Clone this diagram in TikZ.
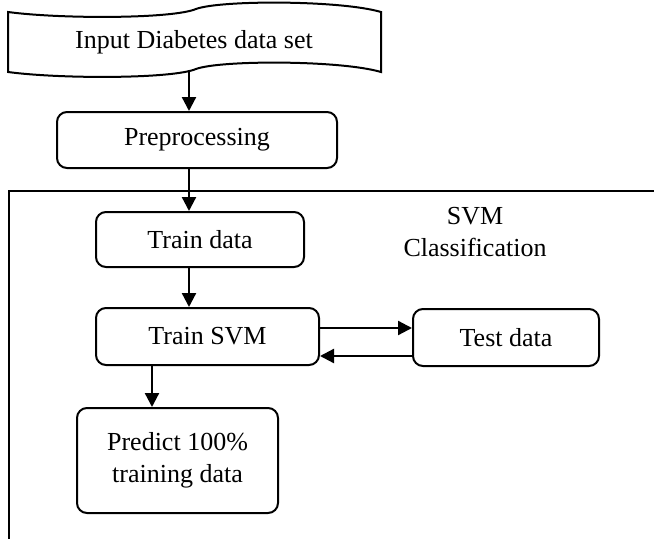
\documentclass[tikz,border=0pt]{standalone}
\usepackage{fontspec}
\setmainfont{Liberation Serif}
\usetikzlibrary{arrows.meta}
\begin{document}
\begin{tikzpicture}[x=0.75pt,y=-0.75pt,
  line width=1.5pt,
  every node/.style={font=\fontsize{19.5}{24}\selectfont, inner sep=0pt, align=center},
  box/.style={draw, rounded corners=7.5pt, line width=1.5pt},
  arr/.style={-{Triangle[length=10.5pt,width=10.5pt]}, line width=1.7pt}]
\useasboundingbox (0,0) rectangle (654,539);
% input document shape
\draw[line width=1.5pt] (8,12) .. controls (60,19) and (172,19) .. (196,9)
  .. controls (220,0) and (340,0) .. (381,12) -- (381,72)
  .. controls (340,60) and (220,60) .. (196,69)
  .. controls (172,79) and (60,79) .. (8,72) -- cycle;
\node (doc) at (194,42) {Input Diabetes data set};
\coordinate (docb) at (189,70);
% frame
\draw[line width=1.5pt] (654,191) -- (9,191) -- (9,539);
\node (svmlabel) at (475,232.5) {SVM\\Classification};
% boxes
\node[box, minimum width=210pt, minimum height=42pt] (pre) at (197,140) {Preprocessing};
\node[box, minimum width=156pt, minimum height=41.25pt] (td) at (200,239.5) {Train data};
\node[box, minimum width=167.25pt, minimum height=42.75pt] (svm) at (207.5,336.5) {Train SVM};
\node[box, minimum width=139.5pt, minimum height=42.75pt] (test) at (506,337.5) {Test data};
\node[box, minimum width=150.75pt, minimum height=78.75pt] (pred) at (177.5,460.5) {Predict 100\%\\training data};
% connectors
\coordinate (c1) at (189,0);
\coordinate (c2) at (152,0);
\coordinate (r1) at (0,328);
\coordinate (r2) at (0,356);
\draw[arr] (docb) -- (docb |- pre.north);
\draw[arr] (c1 |- pre.south) -- (c1 |- td.north);
\draw[arr] (c1 |- td.south) -- (c1 |- svm.north);
\draw[arr] (svm.east |- r1) -- (test.west |- r1);
\draw[arr] (test.west |- r2) -- (svm.east |- r2);
\draw[arr] (c2 |- svm.south) -- (c2 |- pred.north);
\end{tikzpicture}
\end{document}
